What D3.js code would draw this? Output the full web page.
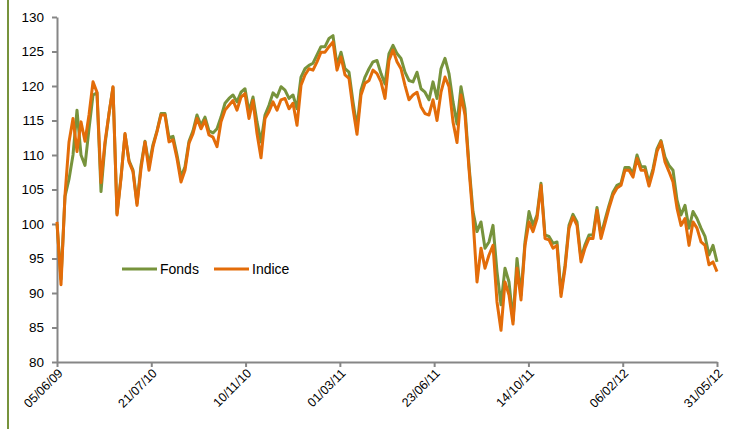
<!DOCTYPE html>
<html>
<head>
<meta charset="utf-8">
<script src="https://cdn.jsdelivr.net/npm/d3@7"></script>
<style>
  body { margin: 0; background: #fff; }
  svg text { font-family: "Liberation Sans", Arial, sans-serif; fill: #000; }
</style>
</head>
<body>
<svg id="chart" width="729" height="429"></svg>
<script>
// x-axis labels (evenly spaced along the series)
var dateLabels = ['05/06/09', '21/07/10', '10/11/10', '01/03/11', '23/06/11', '14/10/11', '06/02/12', '31/05/12'];
var yTicks = [80, 85, 90, 95, 100, 105, 110, 115, 120, 125, 130];

// Fonds series
var fonds = [
  100, 92, 104, 106.5, 110, 116.5, 110, 108.5, 113.8, 118.7,
  119, 104.7, 111.5, 116, 119.8, 101.5, 106.8, 113, 109.2, 107.8,
  103, 108.5, 112, 108.5, 111.5, 113.5, 116, 116, 112.5, 112.7,
  110, 106.8, 108.3, 112, 113.5, 115.8, 114.3, 115.5, 113.5, 113.2,
  113.8, 115.5, 117.5, 118.2, 118.7, 117.7, 119.1, 119.6, 116.3, 118.4,
  114.8, 111.9, 115.8, 117.2, 119, 118.4, 119.9, 119.4, 118.2, 118.7,
  116.7, 121.3, 122.5, 123, 123.3, 124.5, 125.7, 125.7, 126.9, 127.3,
  123, 124.9, 122.5, 122, 117.7, 114, 119.4, 121.3, 122.5, 123.5,
  123.7, 121.8, 120.3, 124.7, 125.9, 124.7, 124, 122, 120.8, 120.6,
  122, 119.6, 119.1, 118, 120.6, 118.2, 122.5, 124, 121.8, 117.7,
  114.5, 119.9, 116.7, 108.5, 101.8, 98.9, 100.3, 96.5, 97.4, 99.8,
  93.1, 88.3, 93.6, 91.6, 86, 95, 89.7, 97.4, 101.8, 99.8,
  101.3, 105.9, 98.4, 98.2, 97.2, 97.4, 90, 94, 99.8, 101.4,
  100.3, 95, 97, 98.4, 98.4, 102.4, 98.4, 100.6, 102.7, 104.6,
  105.6, 105.9, 108.2, 108.2, 107.3, 110, 108.3, 108.3, 106, 108,
  110.9, 112.1, 109.7, 108.5, 107.8, 103.5, 101.3, 102.7, 99.4, 101.8,
  100.8, 99.4, 98.2, 95.5, 96.9, 94.5
];

// Indice series
var indice = [
  100.3, 91.2, 104.2, 111.9, 115.3, 110.5, 114.8, 112, 115.8, 120.6,
  119.1, 106, 111.9, 116, 119.9, 101.3, 106.6, 113.1, 109, 107.6,
  102.7, 108, 111.9, 107.8, 111.2, 113.4, 115.8, 115.8, 111.9, 112.2,
  109.5, 106.1, 107.8, 111.7, 113.1, 115.3, 113.8, 115, 112.9, 112.6,
  111.2, 114.8, 116.5, 117.2, 117.9, 116.5, 118.4, 118.9, 115.3, 117.9,
  113.1, 109.6, 115.3, 116.3, 117.7, 116.5, 118, 118.2, 116.7, 117.5,
  114.3, 120.1, 121.6, 122.5, 122.3, 123.5, 124.9, 124.9, 125.7, 126.4,
  122.3, 124.2, 121.6, 121.1, 116.7, 113, 118.7, 120.4, 120.8, 122.3,
  121.8, 120.6, 118.2, 123.7, 125.2, 123.5, 122.5, 120.1, 118, 118.7,
  119.1, 117, 116, 115.8, 118, 115, 119.1, 121.3, 119.9, 114.8,
  111.8, 118.7, 115.8, 108, 100.8, 91.6, 96.5, 93.6, 95.5, 96.9,
  88.7, 84.6, 91.6, 89.7, 85.5, 93.6, 89, 96.9, 100.3, 98.9,
  100.8, 105.6, 97.9, 97.7, 96.5, 96.9, 89.5, 93.5, 99.4, 101,
  99.8, 94.5, 96.5, 97.9, 97.9, 102, 97.9, 100.1, 102.3, 104.2,
  105.2, 105.6, 107.8, 107.8, 106.8, 109.5, 107.8, 107.8, 105.5, 107.6,
  110.5, 111.9, 109, 107.6, 106.1, 102.3, 99.8, 100.8, 96.9, 100.3,
  99.4, 97.4, 96.9, 94.1, 94.5, 93.1
];

var svg = d3.select('#chart');
var n = indice.length - 1;

var x = d3.scaleLinear().domain([0, n]).range([57, 717]);
var y = d3.scaleLinear().domain([80, 130]).range([362, 17]);

// green frame line on the left
svg.append('line')
  .attr('x1', 8).attr('x2', 8).attr('y1', 0).attr('y2', 429)
  .attr('stroke', '#77933C').attr('stroke-width', 2);

// y axis
var yAxis = svg.append('g')
  .attr('transform', 'translate(57,0)')
  .call(d3.axisLeft(y).tickValues(yTicks).tickSize(5).tickSizeOuter(0).tickPadding(8));
yAxis.selectAll('text').style('font-size', '13.5px');

// x axis
var tickPos = dateLabels.map(function (d, i) { return i * n / (dateLabels.length - 1); });
var xAxis = svg.append('g')
  .attr('transform', 'translate(0,362)')
  .call(d3.axisBottom(x).tickValues(tickPos).tickSize(5).tickSizeOuter(0)
    .tickFormat(function (d, i) { return dateLabels[i]; }));
xAxis.selectAll('text')
  .style('font-size', '12.5px')
  .attr('text-anchor', 'end')
  .attr('dy', null)
  .attr('y', 0)
  .attr('transform', 'translate(6,12) rotate(-45)');

svg.selectAll('.domain, .tick line')
  .attr('stroke', '#868686').attr('stroke-width', 2);

// lines
var line = d3.line()
  .x(function (d, i) { return x(i); })
  .y(function (d) { return y(d); });

svg.append('path').datum(fonds)
  .attr('d', line).attr('fill', 'none')
  .attr('stroke', '#77933C').attr('stroke-width', 3)
  .attr('stroke-linejoin', 'round');

svg.append('path').datum(indice)
  .attr('d', line).attr('fill', 'none')
  .attr('stroke', '#E36C09').attr('stroke-width', 3)
  .attr('stroke-linejoin', 'round');

// legend
var legend = [['Fonds', '#77933C', 122], ['Indice', '#E36C09', 214]];
legend.forEach(function (l) {
  svg.append('line')
    .attr('x1', l[2]).attr('x2', l[2] + 35).attr('y1', 269).attr('y2', 269)
    .attr('stroke', l[1]).attr('stroke-width', 3);
  svg.append('text')
    .attr('x', l[2] + 38).attr('y', 274)
    .style('font-size', '14px')
    .text(l[0]);
});
</script>
</body>
</html>
